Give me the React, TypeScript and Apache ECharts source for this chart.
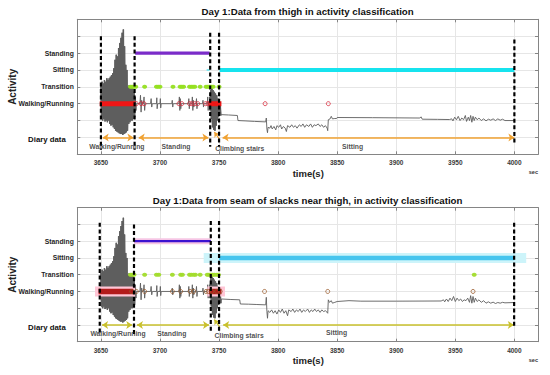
import { useEffect, useRef } from 'react';
import * as echarts from 'echarts';

const FONT = 'Liberation Sans, Arial, Helvetica, sans-serif';

const X_MIN = 3630;
const X_MAX = 4020;
const Y_MIN = -1;
const Y_MAX = 7;
const Y_TICK_LABELS = ['', 'Diary data', '', 'Walking/Running', 'Transition', 'Sitting', 'Standing', '', ''];

const TITLES = [
  'Day 1:Data from thigh in activity classification',
  'Day 1:Data from seam of slacks near thigh, in activity classification',
];

const WALK_LEVEL = 2;
const TRANSITION_LEVEL = 3;
const SITTING_LEVEL = 4;
const STANDING_LEVEL = 5;
const DIARY_LEVEL = 0;

// accelerometer burst while walking: [time, high, low]
const WALK_BURST: [number, number, number][] = [
  [3650, 3.1, 1.1], [3651, 3.3, 1.0], [3652, 3.2, 1.1], [3653, 3.4, 0.95], [3654, 3.3, 1.0],
  [3655, 3.5, 0.9], [3656, 3.4, 1.0], [3657, 3.5, 0.8], [3658, 3.6, 0.7], [3659, 3.7, 0.75],
  [3660, 3.8, 0.6], [3661, 4.1, 0.5], [3662, 4.6, 0.4], [3663, 4.9, 0.35], [3664, 4.8, 0.3],
  [3665, 5.3, 0.25], [3666, 5.6, 0.2], [3667, 5.9, 0.2], [3668, 6.2, 0.15], [3669, 6.4, 0.2],
  [3670, 5.4, 0.25], [3671, 4.3, 0.3], [3672, 4.0, 0.4], [3673, 3.0, 0.8], [3674, 3.1, 0.9],
  [3675, 2.9, 1.0], [3676, 3.0, 1.0], [3677, 2.9, 1.1], [3678, 2.7, 1.2], [3679, 2.4, 1.6],
];

// signal while standing: [time, value]
const STAND_SIGNAL: [number, number][] = [
  [3680, 2.0], [3683, 2.0], [3683.5, 2.5], [3684, 1.5], [3684.5, 2.2], [3685, 2.0], [3686, 2.0],
  [3686.5, 2.4], [3687, 1.6], [3687.5, 2.0], [3692, 2.0], [3692.5, 2.3], [3693, 1.8], [3693.5, 2.0],
  [3697, 2.0], [3697.3, 2.35], [3697.6, 1.7], [3698, 2.0], [3700, 2.0], [3700.3, 2.3], [3700.6, 1.75],
  [3701, 2.0], [3710, 2.0], [3710.4, 2.2], [3710.8, 1.8], [3711.2, 2.0], [3716, 2.0], [3716.4, 2.4],
  [3716.8, 1.6], [3717.2, 2.3], [3717.6, 1.7], [3718, 2.0], [3724, 2.0], [3724.4, 2.3], [3724.8, 1.7],
  [3725.2, 2.0], [3727, 2.0], [3727.4, 2.4], [3727.8, 1.6], [3728.2, 2.2], [3728.6, 1.8], [3729, 2.0],
  [3730.5, 2.0], [3730.9, 2.3], [3731.3, 1.7], [3731.7, 2.0], [3736, 2.0], [3736.4, 2.2], [3736.8, 1.8],
  [3737.2, 2.0], [3740, 2.0], [3740.4, 2.4], [3740.8, 1.6], [3741.2, 2.1], [3741.8, 2.0],
];

// burst while climbing stairs: [time, high, low]
const STAIRS_BURST: [number, number, number][] = [
  [3742, 2.4, 1.6], [3743, 2.8, 1.1], [3744, 2.9, 0.6], [3745, 2.8, 0.45], [3746, 2.7, 0.4],
  [3747, 2.6, 0.7], [3748, 2.5, 1.0], [3749, 2.3, 1.2], [3750, 2.2, 1.4], [3751, 1.9, 1.3],
];

const SIT_SIGNAL_THIGH: [number, number][] = [
  [3752, 1.35], [3758, 1.33], [3765.5, 1.3], [3766, 1.0], [3772, 0.98], [3780, 0.95], [3789.5, 0.92],
  [3790, 1.15], [3790.5, 0.5], [3791, 0.28], [3791.5, 0.6], [3793, 0.55], [3794, 0.7], [3795, 0.5],
  [3796.5, 0.65], [3798, 0.45], [3799, 0.7], [3800.5, 0.6], [3802, 0.75], [3803, 0.5], [3804.5, 0.65],
  [3806, 0.55], [3807, 0.35], [3808, 0.7], [3810, 0.6], [3811.5, 0.75], [3813, 0.6], [3814.5, 0.7],
  [3816, 0.55], [3818, 0.75], [3819.5, 0.65], [3821, 0.8], [3822.5, 0.6], [3824, 0.75], [3826, 0.65],
  [3827.5, 0.8], [3829, 0.6], [3830.5, 0.75], [3832, 0.7], [3834, 0.8], [3835.5, 0.65], [3837, 0.75],
  [3838.5, 0.6], [3840, 0.7], [3841.5, 0.55], [3842, 0.4], [3842.5, 1.05], [3844, 1.1], [3845, 1.25],
  [3846, 1.1], [3848, 1.12], [3849.5, 1.12], [3850, 1.18], [3880, 1.17], [3920, 1.15], [3921, 1.22],
  [3922, 1.08], [3935, 1.07], [3945, 1.06], [3947, 1.1], [3948, 0.98], [3949.5, 1.2], [3951, 1.05],
  [3952.5, 1.25], [3954, 1.0], [3955.5, 1.15], [3957, 1.05], [3958.5, 1.3], [3959.5, 0.95], [3961, 1.2],
  [3962, 1.0], [3963, 1.3], [3964, 0.9], [3965, 1.25], [3966, 1.0], [3967, 1.2], [3968.5, 1.05],
  [3970, 1.15], [3972, 1.0], [3974, 1.1], [3976, 0.98], [3978, 1.08], [3980, 1.02], [3982, 1.1],
  [3984, 1.0], [3986, 1.1], [3988, 1.02], [3990, 1.08], [3992, 1.0], [4000, 1.0],
];

const SIT_SIGNAL_SEAM: [number, number][] = [
  [3752, 1.55], [3760, 1.52], [3767.5, 1.5], [3768, 1.25], [3775, 1.24], [3782, 1.22], [3789.5, 1.2],
  [3790, 1.65], [3790.5, 0.8], [3791, 0.4], [3791.5, 0.85], [3793, 0.75], [3794.5, 0.9], [3796, 0.7],
  [3797.5, 0.85], [3799, 0.65], [3800.5, 0.9], [3802, 0.75], [3803.5, 0.95], [3805, 0.7], [3806.5, 0.85],
  [3808, 0.55], [3809, 0.9], [3811, 0.8], [3812.5, 0.95], [3814, 0.75], [3815.5, 0.9], [3817, 0.8],
  [3818.5, 0.95], [3820, 0.75], [3821.5, 0.9], [3823, 0.8], [3825, 0.95], [3826.5, 0.75], [3828, 0.9],
  [3829.5, 0.8], [3831, 0.95], [3832.5, 0.8], [3834, 0.9], [3835.5, 0.75], [3837, 0.9], [3838.5, 0.8],
  [3840, 0.85], [3841.5, 0.75], [3842, 0.7], [3842.5, 1.5], [3843.5, 1.35], [3845, 1.45], [3846, 1.3],
  [3848, 1.35], [3850, 1.4], [3860, 1.45], [3870, 1.42], [3900, 1.42], [3938, 1.43], [3940, 1.5],
  [3941, 1.38], [3942.5, 1.55], [3944, 1.4], [3945.5, 1.6], [3947, 1.45], [3948.5, 1.7], [3950, 1.4],
  [3951.5, 1.6], [3953, 1.45], [3954.5, 1.55], [3956, 1.4], [3957.5, 1.5], [3959, 1.45], [3960.5, 1.6],
  [3962, 1.35], [3963, 1.75], [3964, 1.3], [3965, 1.7], [3966, 1.35], [3967, 1.6], [3968.5, 1.4],
  [3970, 1.5], [3972, 1.35], [3974, 1.45], [3976, 1.3], [3978, 1.38], [3980, 1.3], [3982, 1.36],
  [3984, 1.28], [3986, 1.34], [3988, 1.3], [3990, 1.35], [3992, 1.32], [4000, 1.34],
];

// classified Walking/Running (thick runs and single detections)
const WALK_RUNS_THIGH: [number, number][] = [[3649, 3679], [3741, 3752]];
const WALK_RUNS_SEAM: [number, number][] = [[3648, 3677.5], [3741.5, 3752]];
const WALK_HALO_SEAM: [number, number][] = [[3645, 3679], [3740, 3755]];
const WALK_HITS_THIGH = [3680, 3684, 3686.5, 3716, 3718.5, 3725, 3727, 3729.5, 3732, 3738.5, 3740.5, 3789, 3842.5];
const WALK_HITS_SEAM = [3676, 3680, 3687, 3710.5, 3717.5, 3725.5, 3728.5, 3739, 3741, 3744, 3748, 3751, 3788.5, 3842, 3965];

// classified Transition
const TRANSITION_THIGH = [3675, 3676.5, 3678, 3679.5, 3687, 3697, 3698.5, 3700, 3711, 3717, 3718.5, 3720,
  3725, 3726.5, 3728, 3729.5, 3734, 3739, 3740.5, 3742, 3743.5, 3745, 3750];
const TRANSITION_SEAM = [3675, 3676.5, 3678, 3687, 3697, 3699, 3710.5, 3717.5, 3719, 3725, 3726.5, 3728.5,
  3730, 3734, 3740, 3741.5, 3743, 3744.5, 3746, 3748, 3749.5, 3966];

// classified Standing / Sitting runs
const STANDING_THIGH: [number, number] = [3679, 3742];
const STANDING_SEAM: [number, number] = [3678, 3743];
const SITTING_THIGH: [number, number] = [3750.5, 4000];
const SITTING_PRE_THIGH: [number, number] = [3739.5, 3742];
const SITTING_SEAM: [number, number] = [3750, 4000];
const SITTING_HALO_SEAM: [number, number] = [3737, 4010];

// diary boundaries: [time, top, bottom]
const BOUNDS_THIGH: [number, number, number][] = [
  [3650, 6.0, -0.73], [3678.5, 6.0, -0.73], [3742.5, 6.2, -0.55], [3750, 6.2, -0.55], [4000, 5.8, -0.33],
];
const BOUNDS_SEAM: [number, number, number][] = [
  [3649, 6.1, -0.56], [3678, 6.0, -0.56], [3743, 6.2, -0.5], [3750, 6.2, -0.5], [3999.8, 6.1, -0.15],
];

// diary arrows
const DIARY_THIGH: [number, number][] = [[3651.5, 3677.5], [3682, 3741], [3753, 4000]];
const DIARY_SEAM: [number, number][] = [[3651, 3676.5], [3680.5, 3741.5], [3753.5, 3999.5]];
const STAIRS_POINTER: [number, number][] = [[3750.5, -0.12], [3746, 0.32]];
const DIARY_LABELS = ['Walking/Running', 'Standing', 'Climbing stairs', 'Sitting'];
const DIARY_LABEL_POS_THIGH: [number, number][] = [[3663.5, -0.55], [3713.5, -0.55], [3767.5, -0.67], [3863, -0.55]];
const DIARY_LABEL_POS_SEAM: [number, number][] = [[3664.5, -0.5], [3710, -0.5], [3767, -0.62], [3849.5, -0.45]];

const GRIDS = [
  { left: 77.3, top: 19.3, width: 460.7, height: 135 },
  { left: 77.3, top: 207.7, width: 460.7, height: 134 },
];

const PANELS = [
  {
    tail: SIT_SIGNAL_THIGH, walkRuns: WALK_RUNS_THIGH, walkHalo: null as null | [number, number][],
    walkHits: WALK_HITS_THIGH, transitions: TRANSITION_THIGH, standing: STANDING_THIGH,
    sitting: SITTING_THIGH, sittingPre: SITTING_PRE_THIGH as null | [number, number], sittingHalo: null as null | [number, number],
    bounds: BOUNDS_THIGH, diary: DIARY_THIGH, labelPos: DIARY_LABEL_POS_THIGH,
    c: { signal: '#5e5e5e', walk: '#f01616', hit: '#d8283a', trans: '#95e020', stand: '#7b2cc9', standHalo: '',
      sit: '#16e3ee', sitHalo: '', walkHalo: '', diary: '#f0a232' },
  },
  {
    tail: SIT_SIGNAL_SEAM, walkRuns: WALK_RUNS_SEAM, walkHalo: WALK_HALO_SEAM,
    walkHits: WALK_HITS_SEAM, transitions: TRANSITION_SEAM, standing: STANDING_SEAM,
    sitting: SITTING_SEAM, sittingPre: null, sittingHalo: SITTING_HALO_SEAM,
    bounds: BOUNDS_SEAM, diary: DIARY_SEAM, labelPos: DIARY_LABEL_POS_SEAM,
    c: { signal: '#5e5e5e', walk: '#b31b1b', hit: '#9a5a2a', trans: '#a2dc2c', stand: '#3c12d0', standHalo: '#f6c6e4',
      sit: '#46c5ee', sitHalo: '#cdf4fa', walkHalo: '#ffc6d6', diary: '#c9c02c' },
  },
];

function burstPoints(b: [number, number, number][]) {
  const out: [number, number][] = [];
  b.forEach(([t, hi, lo]) => {
    out.push([t, hi]);
    out.push([t + 0.5, lo]);
  });
  return out;
}

function buildOption() {
  const xAxis: any[] = [];
  const yAxis: any[] = [];
  const series: any[] = [];
  const graphic: any[] = [];
  const frame = '#858585';

  GRIDS.forEach((g, gi) => {
    const p = PANELS[gi];
    xAxis.push({
      gridIndex: gi, type: 'value', min: X_MIN, max: X_MAX, splitNumber: 8, position: 'bottom',
      axisLine: { show: true, onZero: false, lineStyle: { color: frame, width: 1 } },
      axisTick: { show: true, inside: true, length: 3, lineStyle: { color: frame } },
      axisLabel: {
        formatter: (v: number) => (v % 50 === 0 ? String(v) : ''),
        fontSize: 6.5, fontFamily: FONT, fontWeight: 'bold', color: '#3a3a3a', margin: 5,
      },
      splitLine: { show: true, lineStyle: { color: '#e6e6e6', width: 1 } },
    });
    xAxis.push({
      gridIndex: gi, type: 'value', min: X_MIN, max: X_MAX, splitNumber: 8, position: 'top',
      axisLine: { show: true, onZero: false, lineStyle: { color: frame, width: 1 } },
      axisTick: { show: true, inside: true, length: 3, lineStyle: { color: frame } },
      axisLabel: { show: false }, splitLine: { show: false },
    });
    yAxis.push({
      gridIndex: gi, type: 'value', min: Y_MIN, max: Y_MAX, interval: 1, position: 'left',
      axisLine: { show: true, onZero: false, lineStyle: { color: frame, width: 1 } },
      axisTick: { show: true, inside: true, length: 3, lineStyle: { color: frame } },
      axisLabel: {
        formatter: (v: number) => {
          const s = Y_TICK_LABELS[Math.round(v) - Y_MIN] || '';
          return s === 'Diary data' ? '{d|Diary data}' : s;
        },
        fontSize: 6.8, fontFamily: FONT, fontWeight: 'bold', color: '#1e1e1e', margin: 3.5,
        rich: { d: { fontSize: 7.8, fontFamily: FONT, fontWeight: 'bold', color: '#111', padding: [4.6, 8, 0, 0] } },
      },
      splitLine: { show: true, lineStyle: { color: '#e6e6e6', width: 1 } },
    });
    yAxis.push({
      gridIndex: gi, type: 'value', min: Y_MIN, max: Y_MAX, interval: 1, position: 'right',
      axisLine: { show: true, onZero: false, lineStyle: { color: frame, width: 1 } },
      axisTick: { show: true, inside: true, length: 3, lineStyle: { color: frame } },
      axisLabel: { show: false }, splitLine: { show: false },
    });

    const ax = { xAxisIndex: gi * 2, yAxisIndex: gi * 2 };
    const seg = (pts: any[], color: string, width: number, z: number, type: any = 'solid') => ({
      type: 'line', ...ax, data: pts, showSymbol: false, symbol: 'none', silent: true, z,
      lineStyle: { color, width, type, cap: 'butt' },
    });

    // accelerometer signal
    const walkBurst = burstPoints(WALK_BURST);
    const stairsBurst = burstPoints(STAIRS_BURST);
    const signal = [...walkBurst, ...STAND_SIGNAL, ...stairsBurst, ...p.tail];
    series.push(seg(signal, p.c.signal, 0.9, 2));
    series.push(seg(walkBurst, p.c.signal, 1.5, 2));
    series.push(seg(stairsBurst, p.c.signal, 1.5, 2));

    // halos
    if (p.walkHalo) p.walkHalo.forEach(([a, b]) => series.push(seg([[a, WALK_LEVEL], [b, WALK_LEVEL]], p.c.walkHalo, 10, 3)));
    if (p.c.standHalo) series.push(seg([[p.standing[0], STANDING_LEVEL], [p.standing[1], STANDING_LEVEL]], p.c.standHalo, 6, 3));
    if (p.sittingHalo) series.push(seg([[p.sittingHalo[0], SITTING_LEVEL], [p.sittingHalo[1], SITTING_LEVEL]], p.c.sitHalo, 10, 3));

    // classifications
    p.walkRuns.forEach(([a, b]) => series.push(seg([[a, WALK_LEVEL], [b, WALK_LEVEL]], p.c.walk, gi === 0 ? 5 : 5.5, 4)));
    series.push(seg([[p.standing[0], STANDING_LEVEL], [p.standing[1], STANDING_LEVEL]], p.c.stand, gi === 0 ? 3.2 : 2.2, 4));
    series.push(seg([[p.sitting[0], SITTING_LEVEL], [p.sitting[1], SITTING_LEVEL]], p.c.sit, gi === 0 ? 4 : 4.5, 4));
    if (p.sittingPre) series.push(seg([[p.sittingPre[0], SITTING_LEVEL], [p.sittingPre[1], SITTING_LEVEL]], '#7fe9f0', 2, 4));

    series.push({
      type: 'scatter', ...ax, silent: true, z: 5, symbol: 'circle', symbolSize: 4,
      data: p.walkHits.map((t) => [t, WALK_LEVEL]),
      itemStyle: { color: 'rgba(0,0,0,0)', borderColor: p.c.hit, borderWidth: 1 },
    });
    series.push({
      type: 'scatter', ...ax, silent: true, z: 5, symbol: 'circle', symbolSize: [5, 4],
      data: p.transitions.map((t) => [t, TRANSITION_LEVEL]),
      itemStyle: { color: p.c.trans, opacity: 0.95 },
    });

    // diary arrows
    series.push({
      type: 'lines', coordinateSystem: 'cartesian2d', ...ax, silent: true, z: 6,
      symbol: ['arrow', 'arrow'], symbolSize: 6,
      lineStyle: { color: p.c.diary, width: 1.5, opacity: 1, curveness: 0 },
      data: p.diary.map(([a, b]) => ({ coords: [[a, DIARY_LEVEL], [b, DIARY_LEVEL]] })),
    });
    series.push({
      type: 'lines', coordinateSystem: 'cartesian2d', ...ax, silent: true, z: 6,
      symbol: ['none', 'arrow'], symbolSize: 5,
      lineStyle: { color: p.c.diary, width: 1.2, opacity: 1, curveness: 0 },
      data: [{ coords: STAIRS_POINTER }],
    });

    // diary boundaries
    p.bounds.forEach(([t, top, bot]) => series.push(seg([[t, top], [t, bot]], '#000', 2.2, 7, [4, 2.6])));

    // diary labels
    series.push({
      type: 'scatter', ...ax, silent: true, z: 8, symbolSize: 1,
      itemStyle: { color: 'rgba(0,0,0,0)' },
      data: p.labelPos.map((pos, i) => ({ value: pos, label: { formatter: DIARY_LABELS[i] } })),
      label: { show: true, position: 'inside', fontSize: 6.8, fontFamily: FONT, fontWeight: 'bold', color: '#222' },
    });

    const cx = g.left + g.width / 2;
    const bottom = g.top + g.height;
    graphic.push({
      type: 'text', x: cx, y: g.top - 7.5, silent: true,
      style: { text: TITLES[gi], fontSize: 9.7, fontWeight: 'bold', fontFamily: FONT, fill: '#111', align: 'center', verticalAlign: 'middle' },
    });
    graphic.push({
      type: 'text', x: cx + 0.6, y: bottom + 19, silent: true,
      style: { text: 'time(s)', fontSize: 9.5, fontWeight: 'bold', fontFamily: FONT, fill: '#222', align: 'center', verticalAlign: 'middle' },
    });
    graphic.push({
      type: 'text', x: g.left + g.width, y: bottom + 18, silent: true,
      style: { text: 'sec', fontSize: 5.5, fontWeight: 'bold', fontFamily: FONT, fill: '#333', align: 'right', verticalAlign: 'middle' },
    });
    graphic.push({
      type: 'text', x: 12, y: g.top + g.height / 2, rotation: Math.PI / 2, silent: true,
      style: { text: 'Activity', fontSize: 10, fontWeight: 'bold', fontFamily: FONT, fill: '#222', align: 'center', verticalAlign: 'middle' },
    });
  });

  return {
    animation: false,
    backgroundColor: '#ffffff',
    grid: GRIDS.map((g) => ({ ...g, containLabel: false })),
    xAxis,
    yAxis,
    series,
    graphic,
  };
}

export default function App() {
  const ref = useRef<HTMLDivElement>(null);
  useEffect(() => {
    const chart = echarts.init(ref.current!, null, { renderer: 'svg' });
    chart.setOption(buildOption() as any);
    return () => chart.dispose();
  }, []);
  return (
    <div
      ref={ref}
      style={{ position: 'fixed', left: 0, top: 0, width: 550, height: 375, background: '#fff' }}
    />
  );
}
